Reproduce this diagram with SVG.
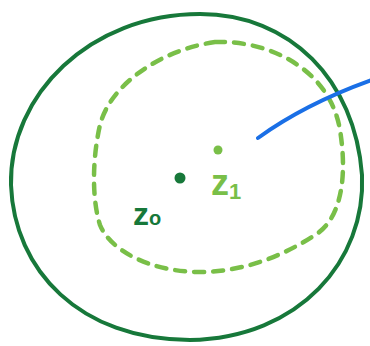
<svg xmlns="http://www.w3.org/2000/svg" width="370" height="346" viewBox="0 0 370 346">
<style>
.outer{fill:none;stroke:#17783a;stroke-width:4;stroke-linecap:round}
.inner{fill:none;stroke:#79bf48;stroke-width:4.5;stroke-linecap:round;stroke-dasharray:10 9}
.blue{fill:none;stroke:#1a6fe6;stroke-width:4;stroke-linecap:round}
.dk{fill:#17783a}
.lt{fill:#79bf48}
.t{font-family:"Liberation Sans",Arial,sans-serif;font-weight:bold}
</style>
<rect width="370" height="346" fill="#ffffff"/>
<g id="outer-region">
<path class="outer" d="M 200,14 C 290,14 355,80 362,175 C 366,260 300,338 190,340 C 80,340 14,270 11,185 C 9,95 90,14 200,14 Z"/>
</g>
<g id="inner-region">
<path class="inner" d="M 215,42 C 270,40 330,70 340,130 C 348,180 340,220 315,235 C 280,258 240,272 200,272 C 150,272 110,250 100,225 C 92,200 92,160 100,125 C 110,85 160,50 215,42 Z"/>
</g>
<g id="point-z0">
<circle class="dk" cx="180" cy="178" r="5.5"/>
<text class="t dk" x="133" y="225" font-size="32">z<tspan font-size="20">o</tspan></text>
</g>
<g id="point-z1">
<circle class="lt" cx="218" cy="150" r="4.5"/>
<text class="t lt" x="211" y="195" font-size="36">z<tspan font-size="22" dy="4">1</tspan></text>
</g>
<g id="connectors">
<path class="blue" d="M 258,138 C 290,115 330,95 372,80"/>
</g>
</svg>
